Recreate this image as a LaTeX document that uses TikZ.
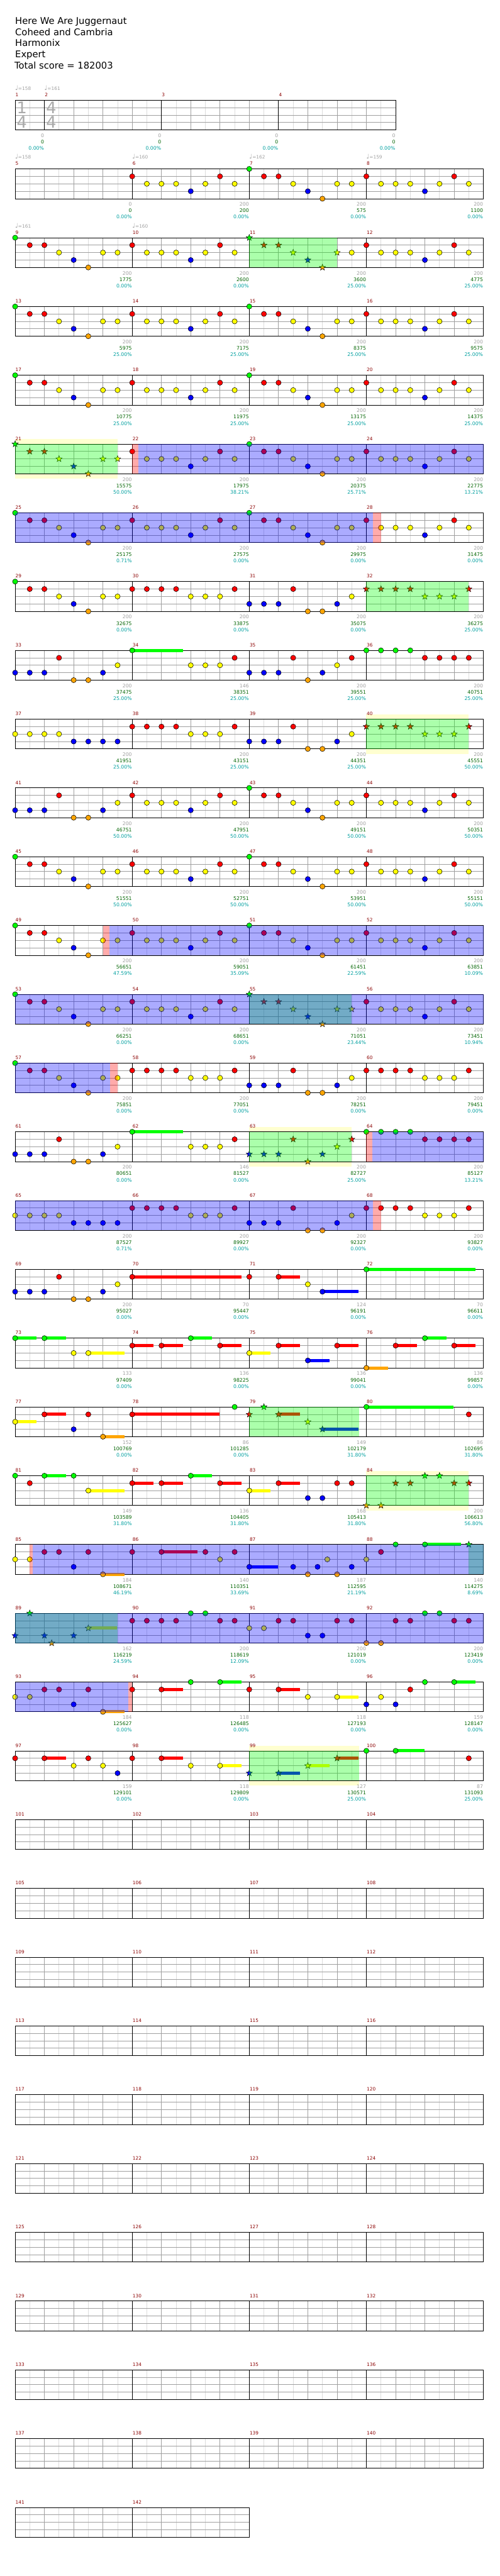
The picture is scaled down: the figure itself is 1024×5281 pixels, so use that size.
\documentclass[tikz,border=0pt]{standalone}
\usepackage{fontspec}
\setmainfont{DejaVu Sans}
\usetikzlibrary{shapes.geometric}
\pgfdeclarelayer{pbg}\pgfdeclarelayer{ybg}\pgfdeclarelayer{staff}\pgfdeclarelayer{ovg}\pgfdeclarelayer{ovb}
\pgfsetlayers{pbg,ybg,staff,main,ovg,ovb}
\definecolor{lc0}{RGB}{0,255,0}
\definecolor{lc1}{RGB}{255,0,0}
\definecolor{lc2}{RGB}{255,255,0}
\definecolor{lc3}{RGB}{0,0,255}
\definecolor{lc4}{RGB}{255,165,0}
\definecolor{gridl}{RGB}{220,220,220}
\definecolor{gridd}{RGB}{160,160,160}
\definecolor{mnum}{RGB}{139,0,0}
\definecolor{lgrey}{RGB}{160,160,160}
\definecolor{lgreen}{RGB}{0,100,0}
\definecolor{lcyan}{RGB}{0,160,160}
\definecolor{ybgc}{RGB}{255,255,208}
\definecolor{tsc}{RGB}{170,170,170}
\tikzset{
 lbl/.style={anchor=base east,inner sep=0,font=\fontsize{10}{10}\selectfont},
 stn/.style={star,star points=5,star point ratio=2.4,minimum size=13.5pt,inner sep=0,draw=black,line width=.6pt},
 ntc/.style={draw=black,line width=.7pt},
 tsig/.style={anchor=base west,inner sep=0,text=tsc,font=\fontsize{33}{33}\selectfont},
 ttl/.style={anchor=base west,inner sep=0,font=\fontsize{19}{19}\selectfont}
}
% measure geometry
\newcommand\GM[1]{%
 \pgfmathtruncatemacro\mr{(#1-1)/4}%
 \pgfmathtruncatemacro\mc{#1-1-4*\mr}%
 \ifnum#1=1\relax\def\MX{31}\else\ifnum#1<5\relax\pgfmathsetmacro\MX{91+240*(#1-2)}\else\pgfmathsetmacro\MX{31+240*\mc}\fi\fi
 \pgfmathsetmacro\MT{205.3+141*\mr}}
% notes
\newcommand\Nts[2]{\GM{#1}\edef\tmpl{#2}\foreach\pe/\pl in \tmpl{\filldraw[fill=lc\pl,ntc] ({\MX+30*\pe},{\MT+15.25*\pl}) circle[radius=5.3];}}
\newcommand\Sts[2]{\GM{#1}\edef\tmpl{#2}\foreach\pe/\pl in \tmpl{\node[stn,fill=lc\pl] at ({\MX+30*\pe},{\MT+15.25*\pl}) {};}}
\newcommand\Sus[4]{\GM{#1}\fill[lc#3] ({\MX+30*#2},{\MT+15.25*#3-3.2}) rectangle ({\MX+30*#2+30*#4-1},{\MT+15.25*#3+3.2});\filldraw[fill=lc#3,ntc] ({\MX+30*#2},{\MT+15.25*#3}) circle[radius=5.3];}
\newcommand\SSus[4]{\GM{#1}\fill[lc#3] ({\MX+30*#2},{\MT+15.25*#3-3.2}) rectangle ({\MX+30*#2+30*#4-1},{\MT+15.25*#3+3.2});\node[stn,fill=lc#3] at ({\MX+30*#2},{\MT+15.25*#3}) {};}
% regions
\newcommand\Rg[3]{\pgfmathsetmacro\RT{205.3+141*(#1-1)}\begin{pgfonlayer}{ovg}\fill[lc0,fill opacity=.33] (#2,\RT) rectangle (#3,\RT+61);\end{pgfonlayer}}
\newcommand\Rb[3]{\pgfmathsetmacro\RT{205.3+141*(#1-1)}\begin{pgfonlayer}{ovb}\fill[lc3,fill opacity=.33] (#2,\RT) rectangle (#3,\RT+61);\end{pgfonlayer}}
\newcommand\Rp[3]{\pgfmathsetmacro\RT{205.3+141*(#1-1)}\begin{pgfonlayer}{ovb}\fill[lc1,fill opacity=.33] (#2,\RT) rectangle (#3,\RT+61);\end{pgfonlayer}}
\newcommand\Ry[3]{\pgfmathsetmacro\RT{205.3+141*(#1-1)}\begin{pgfonlayer}{ybg}\fill[ybgc] (#2,\RT-10) rectangle (#3,\RT+71);\end{pgfonlayer}}
% staff
\newcommand\Stf[3]{\pgfmathsetmacro\RT{205.3+141*(#1-1)}\pgfmathtruncatemacro\xe{#2-1}%
 \begin{pgfonlayer}{staff}
 \fill[white] (31,\RT) rectangle (#2,\RT+61);
 \foreach \x in {61,121,...,\xe} \draw[gridl,line width=1pt] (\x,\RT) -- (\x,\RT+61);
 \foreach \x in {91,151,...,\xe} \draw[gridd,line width=1pt] (\x,\RT) -- (\x,\RT+61);
 \foreach \y in {15.25,30.5,45.75} \draw[gridd,line width=1pt] (31,\RT+\y) -- (#2,\RT+\y);
 \foreach \x in {#3} \draw[black,line width=1pt] (\x,\RT) -- (\x,\RT+61);
 \draw[black,line width=1pt] (31,\RT) rectangle (#2,\RT+61);
 \end{pgfonlayer}}
% labels
\newcommand\Ml[4]{\GM{#1}\ifnum#1=1\relax\def\MW{60}\else\def\MW{240}\fi
 \pgfmathsetmacro\ME{\MX+\MW-0.5}%
 \node[lbl,text=lgrey] at (\ME,\MT+76.3) {#2};
 \node[lbl,text=lgreen] at (\ME,\MT+89.3) {#3};
 \node[lbl,text=lcyan] at (\ME,\MT+102.3) {#4\%};}
\newcommand\Tm[2]{\GM{#1}\node[anchor=base west,inner sep=0,text=lgrey,font=\fontsize{9.5}{9.5}\selectfont] at (\MX,\MT-20.5) {{\fontsize{13}{13}\selectfont ♩}=#2};}
\def\PA{0/0,1/1,2/1,3/2,4/3,5/4,6/2,7/2}
\def\PB{0/1,1/2,2/2,3/2,4/3,5/2,6/1,7/2}
\def\PC{0/1,1/1,2/1,3/1,4/2,5/2,6/2,7/1}
\def\PD{0/3,1/3,2/3,3/1,4/4,5/4,6/3,7/2}
\def\PE{0/2,1/2,2/2,3/2,4/3,5/3,6/3,7/3}
\def\PF{0/0,1/0,2/0,3/0,4/1,5/1,6/1,7/1}
\begin{document}
\begin{tikzpicture}[x=1pt,y=-1pt]
\useasboundingbox (0,0) rectangle (1024,5281);
\begin{pgfonlayer}{pbg}\fill[white] (0,0) rectangle (1024,5281);\end{pgfonlayer}
% header
\node[ttl] (t1) at (31,49.3) {Here We Are Juggernaut};
\node[ttl] (t2) at (31,72.3) {Coheed and Cambria};
\node[ttl] (t3) at (31,95.3) {Harmonix};
\node[ttl] (t4) at (31,118.3) {Expert};
\node[ttl] (t5) at (29.5,141.3) {Total score = 182003};
% staffs
\Stf{1}{811}{91,331,571}
\foreach \k in {2,...,35} {\Stf{\k}{991}{271,511,751}}
\Stf{36}{511}{271}
% measure numbers
\foreach \m in {1,...,142} {\GM{\m}\node[anchor=base west,inner sep=0,text=mnum,font=\fontsize{9.5}{9.5}\selectfont] at (\MX+0.7,\MT-7.5) {\m};}
% time signature
\node[tsig] at (34,232.3) {1};
\node[tsig] at (34,262) {4};
\node[tsig] at (94.5,232.3) {4};
\node[tsig] at (94.5,262) {4};
% tempos
\Tm{1}{158}\Tm{2}{161}\Tm{5}{158}\Tm{6}{160}\Tm{7}{162}\Tm{8}{159}\Tm{9}{161}\Tm{10}{160}
% row 1
\Ml{1}{0}{0}{0.00}\Ml{2}{0}{0}{0.00}\Ml{3}{0}{0}{0.00}\Ml{4}{0}{0}{0.00}
% row 2
\Nts{6}{\PB}\Nts{7}{\PA}\Nts{8}{\PB}
\Ml{5}{0}{0}{0.00}\Ml{6}{200}{200}{0.00}\Ml{7}{200}{575}{0.00}\Ml{8}{200}{1100}{0.00}
% row 3
\Nts{9}{\PA}\Nts{10}{\PB}\Sts{11}{0/0,1/1,2/1,3/2,4/3,5/4,6/2}\Nts{11}{7/2}\Nts{12}{\PB}
\Rg{3}{511}{691}
\Ml{9}{200}{1775}{0.00}\Ml{10}{200}{2600}{0.00}\Ml{11}{200}{3600}{25.00}\Ml{12}{200}{4775}{25.00}
% row 4
\Nts{13}{\PA}\Nts{14}{\PB}\Nts{15}{\PA}\Nts{16}{\PB}
\Ml{13}{200}{5975}{25.00}\Ml{14}{200}{7175}{25.00}\Ml{15}{200}{8375}{25.00}\Ml{16}{200}{9575}{25.00}
% row 5
\Nts{17}{\PA}\Nts{18}{\PB}\Nts{19}{\PA}\Nts{20}{\PB}
\Ml{17}{200}{10775}{25.00}\Ml{18}{200}{11975}{25.00}\Ml{19}{200}{13175}{25.00}\Ml{20}{200}{14375}{25.00}
% row 6
\Sts{21}{\PA}\Nts{22}{\PB}\Nts{23}{\PA}\Nts{24}{\PB}
\Rg{6}{31}{241}\Ry{6}{31}{241}\Rp{6}{271}{284}\Rb{6}{284}{991}
\Ml{21}{200}{15575}{50.00}\Ml{22}{200}{17975}{38.21}\Ml{23}{200}{20375}{25.71}\Ml{24}{200}{22775}{13.21}
% row 7
\Nts{25}{\PA}\Nts{26}{\PB}\Nts{27}{\PA}\Nts{28}{\PB}
\Rb{7}{31}{764}\Rp{7}{764}{781}
\Ml{25}{200}{25175}{0.71}\Ml{26}{200}{27575}{0.00}\Ml{27}{200}{29975}{0.00}\Ml{28}{200}{31475}{0.00}
% row 8
\Nts{29}{\PA}\Nts{30}{\PC}\Nts{31}{\PD}\Sts{32}{\PC}
\Rg{8}{751}{961}
\Ml{29}{200}{32675}{0.00}\Ml{30}{200}{33875}{0.00}\Ml{31}{200}{35075}{0.00}\Ml{32}{200}{36275}{25.00}
% row 9
\Nts{33}{\PD}\Sus{34}{0}{0}{3.5}\Nts{34}{4/2,5/2,6/2,7/1}\Nts{35}{0/3,1/3,2/3,3/1,4/4,5/3,6/2,7/1}\Nts{36}{\PF}
\Ml{33}{200}{37475}{25.00}\Ml{34}{146}{38351}{25.00}\Ml{35}{200}{39551}{25.00}\Ml{36}{200}{40751}{25.00}
% row 10
\Nts{37}{\PE}\Nts{38}{\PC}\Nts{39}{\PD}\Sts{40}{\PC}
\Rg{10}{751}{961}\Ry{10}{751}{961}
\Ml{37}{200}{41951}{25.00}\Ml{38}{200}{43151}{25.00}\Ml{39}{200}{44351}{25.00}\Ml{40}{200}{45551}{50.00}
% row 11
\Nts{41}{\PD}\Nts{42}{\PB}\Nts{43}{\PA}\Nts{44}{\PB}
\Ml{41}{200}{46751}{50.00}\Ml{42}{200}{47951}{50.00}\Ml{43}{200}{49151}{50.00}\Ml{44}{200}{50351}{50.00}
% row 12
\Nts{45}{\PA}\Nts{46}{\PB}\Nts{47}{\PA}\Nts{48}{\PB}
\Ml{45}{200}{51551}{50.00}\Ml{46}{200}{52751}{50.00}\Ml{47}{200}{53951}{50.00}\Ml{48}{200}{55151}{50.00}
% row 13
\Nts{49}{\PA}\Nts{50}{\PB}\Nts{51}{\PA}\Nts{52}{\PB}
\Rp{13}{211}{224}\Rb{13}{224}{991}
\Ml{49}{200}{56651}{47.59}\Ml{50}{200}{59051}{35.09}\Ml{51}{200}{61451}{22.59}\Ml{52}{200}{63851}{10.09}
% row 14
\Nts{53}{\PA}\Nts{54}{\PB}\Sts{55}{\PA}\Nts{56}{\PB}
\Rb{14}{31}{991}\Rg{14}{511}{721}
\Ml{53}{200}{66251}{0.00}\Ml{54}{200}{68651}{0.00}\Ml{55}{200}{71051}{23.44}\Ml{56}{200}{73451}{10.94}
% row 15
\Nts{57}{\PA}\Nts{58}{\PC}\Nts{59}{\PD}\Nts{60}{\PC}
\Rb{15}{31}{225}\Rp{15}{225}{241}
\Ml{57}{200}{75851}{0.00}\Ml{58}{200}{77051}{0.00}\Ml{59}{200}{78251}{0.00}\Ml{60}{200}{79451}{0.00}
% row 16
\Nts{61}{\PD}\Sus{62}{0}{0}{3.5}\Nts{62}{4/2,5/2,6/2,7/1}\Sts{63}{0/3,1/3,2/3,3/1,4/4,5/3,6/2,7/1}\Nts{64}{\PF}
\Rg{16}{511}{721}\Ry{16}{511}{721}\Rp{16}{751}{763}\Rb{16}{763}{991}
\Ml{61}{200}{80651}{0.00}\Ml{62}{146}{81527}{0.00}\Ml{63}{200}{82727}{25.00}\Ml{64}{200}{85127}{13.21}
% row 17
\Nts{65}{\PE}\Nts{66}{\PC}\Nts{67}{\PD}\Nts{68}{\PC}
\Rb{17}{31}{764}\Rp{17}{764}{781}
\Ml{65}{200}{87527}{0.71}\Ml{66}{200}{89927}{0.00}\Ml{67}{200}{92327}{0.00}\Ml{68}{200}{93827}{0.00}
% row 18
\Nts{69}{\PD}\Sus{70}{0}{1}{7.5}\Nts{71}{0/1,4/2}\Sus{71}{2}{1}{1.5}\Sus{71}{5}{3}{2.5}\Sus{72}{0}{0}{7.5}
\Ml{69}{200}{95027}{0.00}\Ml{70}{70}{95447}{0.00}\Ml{71}{124}{96191}{0.00}\Ml{72}{70}{96611}{0.00}
% row 19
\Sus{73}{0}{0}{1.5}\Sus{73}{2}{0}{1.5}\Nts{73}{4/2}\Sus{73}{5}{2}{2.5}
\Sus{74}{0}{1}{1.5}\Sus{74}{2}{1}{1.5}\Sus{74}{4}{0}{1.5}\Sus{74}{6}{1}{1.5}
\Sus{75}{0}{2}{1.5}\Sus{75}{2}{1}{1.5}\Sus{75}{4}{3}{1.5}\Sus{75}{6}{1}{1.5}
\Sus{76}{0}{4}{1.5}\Sus{76}{2}{1}{1.5}\Sus{76}{4}{0}{1.5}\Sus{76}{6}{1}{1.5}
\Ml{73}{133}{97409}{0.00}\Ml{74}{136}{98225}{0.00}\Ml{75}{136}{99041}{0.00}\Ml{76}{136}{99857}{0.00}
% row 20
\Sus{77}{0}{2}{1.5}\Sus{77}{2}{1}{1.5}\Nts{77}{4/3,5/1}\Sus{77}{6}{4}{1.5}
\Sus{78}{0}{1}{6}\Nts{78}{7/0}
\Sts{79}{0/1,1/0,4/2}\SSus{79}{2}{1}{1.5}\SSus{79}{5}{3}{2.5}
\Sus{80}{0}{0}{6}\Nts{80}{7/1}
\Rg{20}{511}{736}
\Ml{77}{152}{100769}{0.00}\Ml{78}{86}{101285}{0.00}\Ml{79}{149}{102179}{31.80}\Ml{80}{86}{102695}{31.80}
% row 21
\Nts{81}{0/0,1/1,4/0}\Sus{81}{2}{0}{1.5}\Sus{81}{5}{2}{2.5}
\Sus{82}{0}{1}{1.5}\Sus{82}{2}{1}{1.5}\Sus{82}{4}{0}{1.5}\Sus{82}{6}{1}{1.5}
\Sus{83}{0}{2}{1.5}\Sus{83}{2}{1}{1.5}\Nts{83}{4/3,5/3,6/1,7/1}
\Sts{84}{0/4,1/4,2/1,3/1,4/0,5/0,6/1,7/1}
\Rg{21}{751}{961}\Ry{21}{751}{961}
\Ml{81}{149}{103589}{31.80}\Ml{82}{136}{104405}{31.80}\Ml{83}{168}{105413}{31.80}\Ml{84}{200}{106613}{56.80}
% row 22
\Nts{85}{0/2,1/2,2/1,3/1,4/3,5/1}\Sus{85}{6}{4}{1.5}
\Nts{86}{0/1,5/1,6/2,7/1}\Sus{86}{2}{1}{2.5}
\Sus{87}{0}{3}{2}\Nts{87}{3/3,4/4,4.667/3,5.333/2,6/4,7/3}
\Nts{88}{0/2,1/1,2/0}\Sus{88}{4}{0}{2.5}\Sts{88}{7/0}
\Rp{22}{61}{67}\Rb{22}{67}{991}\Rg{22}{961}{991}
\Ml{85}{184}{108671}{46.19}\Ml{86}{140}{110351}{33.69}\Ml{87}{187}{112595}{21.19}\Ml{88}{140}{114275}{8.69}
% row 23
\Sts{89}{0/3,1/0,2/3,2.5/4,4/3}\SSus{89}{5}{2}{2}
\Nts{90}{0/1,1/1,2/1,3/1,4/0,5/0,6/1,7/1}
\Nts{91}{0/2,1/2,2/1,3/1,4/3,5/3,6/1,7/1}
\Nts{92}{0/4,1/4,2/1,3/1,4/0,5/0,6/1,7/1}
\Rg{23}{31}{241}\Rb{23}{31}{991}
\Ml{89}{162}{116219}{24.59}\Ml{90}{200}{118619}{12.09}\Ml{91}{200}{121019}{0.00}\Ml{92}{200}{123419}{0.00}
% row 24
\Nts{93}{0/2,1/2,2/1,3/1,4/3,5/1}\Sus{93}{6}{4}{1.5}
\Nts{94}{0/1,4/0}\Sus{94}{2}{1}{1.5}\Sus{94}{6}{0}{1.5}
\Nts{95}{0/1,4/2}\Sus{95}{2}{1}{1.5}\Sus{95}{6}{2}{1.5}
\Nts{96}{0/3,1/2,2/3,3/1,4/0}\Sus{96}{6}{0}{1.5}
\Rb{24}{31}{263}\Rp{24}{263}{271}
\Ml{93}{184}{125627}{0.00}\Ml{94}{118}{126485}{0.00}\Ml{95}{118}{127193}{0.00}\Ml{96}{159}{128147}{0.00}
% row 25
\Nts{97}{0/1,4/2,5/1,6/2,7/3}\Sus{97}{2}{1}{1.5}
\Nts{98}{0/1,4/2}\Sus{98}{2}{1}{1.5}\Sus{98}{6}{2}{1.5}
\Sts{99}{0/3}\SSus{99}{2}{3}{1.5}\SSus{99}{4}{2}{1.5}\SSus{99}{6}{1}{1.5}
\Nts{100}{0/0,7/1}\Sus{100}{2}{0}{2}
\Rg{25}{511}{736}\Ry{25}{511}{736}
\Ml{97}{159}{129101}{0.00}\Ml{98}{118}{129809}{0.00}\Ml{99}{127}{130571}{25.00}\Ml{100}{87}{131093}{25.00}
\end{tikzpicture}
\end{document}
